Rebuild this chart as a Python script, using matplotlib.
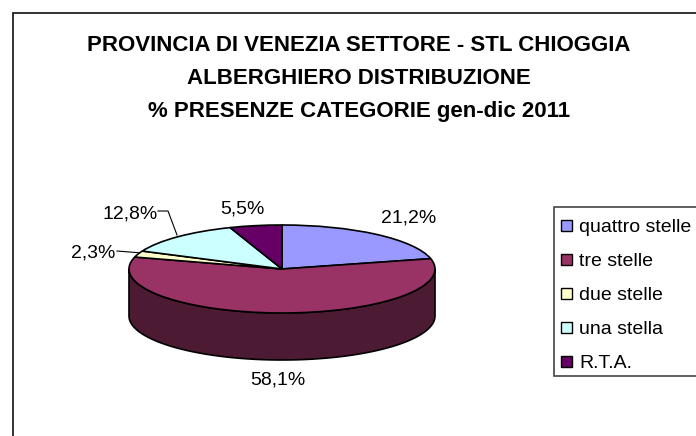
#!/usr/bin/python3
# -*- coding: utf-8 -*-

import numpy as np
import matplotlib
matplotlib.use('Agg')
import matplotlib.pyplot as plt
from matplotlib.patches import Polygon, Rectangle

categories = ['quattro stelle', 'tre stelle', 'due stelle', 'una stella', 'R.T.A.']
values = [21.2, 58.1, 2.3, 12.8, 5.5]
colors = ['#9999FF', '#993366', '#FFFFCC', '#CCFFFF', '#660066']
wall_color = '#4D1A33'
title_lines = ['PROVINCIA DI VENEZIA SETTORE - STL CHIOGGIA',
               'ALBERGHIERO DISTRIBUZIONE',
               '% PRESENZE CATEGORIE gen-dic 2011']

W, H = 696, 436
plt.rcParams['font.family'] = ['Liberation Sans', 'DejaVu Sans']

fig = plt.figure(figsize=(W / 100, H / 100), dpi=100)
bg = fig.add_axes([0, 0, 1, 1])
bg.set_xlim(0, W)
bg.set_ylim(H, 0)
bg.axis('off')

# chart frame, runs off the right and bottom of the picture
bg.add_patch(Rectangle((13, 13.5), 720, 450, fc='white', ec='#222222', lw=1.3))

for txt, y in zip(title_lines, [45.5, 78.5, 111.5]):
    bg.text(359, y, txt, ha='center', va='center', fontsize=16,
            fontweight='bold', color='black')

# squashed pie: the axes maps the unit circle to the ellipse on screen
cx, cy, rx, ry, depth = 282, 269, 153, 44, 47
ax = fig.add_axes([(cx - rx) / W, 1 - (cy + ry) / H, 2 * rx / W, 2 * ry / H], zorder=2)
ax.patch.set_alpha(0)

# side wall first, only the lower rim is visible
d = depth / ry
ang = np.radians(np.linspace(180, 360, 120))
rim_x, rim_y = np.cos(ang), np.sin(ang)
pts = np.column_stack([np.r_[rim_x, rim_x[::-1]], np.r_[rim_y, rim_y[::-1] - d]])
ax.add_patch(Polygon(pts, closed=True, fc=wall_color, ec='black', lw=1.2, clip_on=False))

wedges, _ = ax.pie(values, colors=colors, startangle=90, counterclock=False,
                   wedgeprops=dict(edgecolor='black', linewidth=1.2, clip_on=False),
                   frame=False)
ax.set_aspect('auto')
ax.set_xlim(-1, 1)
ax.set_ylim(-1, 1)
ax.axis('off')

# data labels
label_pos = [(409, 217.5), (278, 379.5), (93, 253), (130, 213.5), (242, 208.5)]
for v, (lx, ly) in zip(values, label_pos):
    fig.text(lx / W, 1 - ly / H, ('%.1f%%' % v).replace('.', ','), ha='center', va='center',
             fontsize=14, color='black', zorder=5)

# leader lines
bg.plot([158, 168, 177], [211, 211, 235], color='black', lw=0.8, zorder=5)
bg.plot([117, 142], [251, 253], color='black', lw=0.8, zorder=5)

# legend, drawn by hand to get the spacing
bg.add_patch(Rectangle((554, 207), 150, 169, fc='white', ec='#444444', lw=1.2))
for i, (name, col) in enumerate(zip(categories, colors)):
    y = 225.5 + i * 34
    bg.add_patch(Rectangle((561, y - 5.5), 11, 11, fc=col, ec='black', lw=1.0))
    bg.text(579, y + 1.5, name, ha='left', va='center', fontsize=14, color='black')

fig.savefig('out.png', dpi=100)
